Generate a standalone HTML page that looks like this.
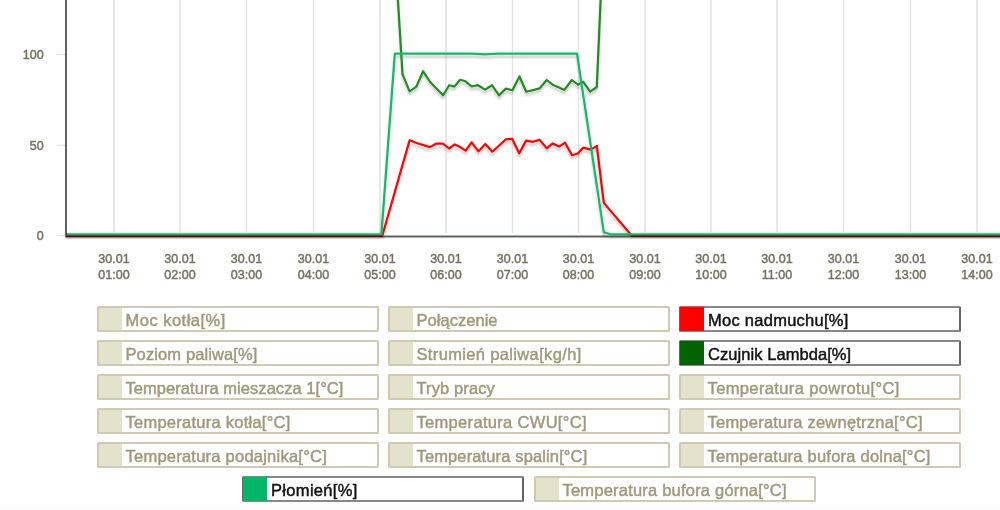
<!DOCTYPE html>
<html><head><meta charset="utf-8"><style>
html,body{will-change:transform;margin:0;padding:0;background:#fff;width:1000px;height:510px;overflow:hidden;position:relative;font-family:"Liberation Sans",sans-serif}
svg{position:absolute;left:0;top:0}
.yl{position:absolute;right:956.4px;margin-top:1px;font-size:12.5px;color:#777060;line-height:14px;-webkit-text-stroke:0.45px #777060}
.xl{position:absolute;top:250.6px;width:60px;text-align:center;font-size:12.5px;color:#777060;line-height:16px;-webkit-text-stroke:0.45px #777060}
.li{position:absolute;box-sizing:border-box;width:282px;height:26px;border:2px solid #d1cab3;border-radius:1.5px;background:#fff;white-space:nowrap;overflow:hidden}
.li .sw{position:absolute;left:0;top:0;width:22.6px;height:22px;background:#e5e2cc}
.li .tx{position:absolute;left:26.5px;top:1px;line-height:22px;font-size:16.5px;color:#a0987a;-webkit-text-stroke:0.45px #a0987a}
.li.on{border-color:rgba(0,0,0,0.47) rgba(0,0,0,0.6);overflow:visible}
.li.on .sw{left:-1px;top:-1px;width:23.7px;height:24px}
.li.on .tx{left:27px;color:#111;-webkit-text-stroke:0.45px #111}
</style></head><body>
<svg width="1000" height="300" viewBox="0 0 1000 300">
<defs><filter id="sh" x="-10%" y="-10%" width="120%" height="130%"><feGaussianBlur in="SourceAlpha" stdDeviation="1.0"/><feOffset dx="0" dy="2.5" result="b"/><feComponentTransfer><feFuncA type="linear" slope="0.22"/></feComponentTransfer><feMerge><feMergeNode/><feMergeNode in="SourceGraphic"/></feMerge></filter></defs>
<g stroke="#d0d0d0" stroke-width="1"><line x1="114.00" y1="0" x2="114.00" y2="233" /><line x1="180.00" y1="0" x2="180.00" y2="233" /><line x1="246.50" y1="0" x2="246.50" y2="233" stroke="#e4e4e4" stroke-width="1.4"/><line x1="313.50" y1="0" x2="313.50" y2="233" stroke="#e4e4e4" stroke-width="1.4"/><line x1="380.00" y1="0" x2="380.00" y2="233" /><line x1="446.00" y1="0" x2="446.00" y2="233" /><line x1="512.50" y1="0" x2="512.50" y2="233" stroke="#e4e4e4" stroke-width="1.4"/><line x1="578.50" y1="0" x2="578.50" y2="233" stroke="#e4e4e4" stroke-width="1.4"/><line x1="645.00" y1="0" x2="645.00" y2="233" /><line x1="711.00" y1="0" x2="711.00" y2="233" /><line x1="777.00" y1="0" x2="777.00" y2="233" /><line x1="843.50" y1="0" x2="843.50" y2="233" stroke="#e4e4e4" stroke-width="1.4"/><line x1="910.50" y1="0" x2="910.50" y2="233" stroke="#e4e4e4" stroke-width="1.4"/><line x1="977.00" y1="0" x2="977.00" y2="233" /></g>
<g stroke="#dcdcdc" stroke-width="1"><line x1="57" y1="54.7" x2="66" y2="54.7"/><line x1="57" y1="145.3" x2="66" y2="145.3"/><line x1="57" y1="235.7" x2="66" y2="235.7"/></g>
<clipPath id="ca"><rect x="66" y="-100" width="940" height="339"/></clipPath>
<g clip-path="url(#ca)"><g fill="none" stroke-width="2.2" stroke-linejoin="round" stroke-linecap="round" filter="url(#sh)">
<polyline stroke="#228b22" points="396.0,-31.0 402.5,74.1 409.6,91.3 416.3,86.7 423.1,71.2 429.8,81.5 436.4,88.5 443.1,95.3 449.2,85.2 454.3,86.6 460.2,79.8 465.5,81.3 471.7,86.5 478.0,85.2 485.1,89.6 492.0,85.2 499.1,95.3 505.9,88.6 512.4,90.2 519.5,76.5 526.3,91.7 533.0,90.1 539.6,88.4 546.7,80.0 552.6,84.7 558.5,87.3 564.3,89.9 571.8,80.0 577.9,84.7 583.1,81.6 590.2,91.7 596.8,87.0 603.5,-66.0"/>
<polyline stroke="#ff0000" points="66.0,236.0 382.2,236.0 409.6,140.2 416.5,143.0 429.8,147.1 436.0,143.7 442.9,143.7 449.2,148.5 454.6,144.4 459.7,146.8 465.6,150.6 471.6,142.3 478.5,151.3 485.3,144.1 492.3,151.7 506.0,139.3 512.3,138.9 519.2,153.3 526.1,140.6 532.8,141.8 539.6,139.9 546.8,148.4 552.6,143.4 559.1,146.6 565.0,142.7 572.1,155.3 577.9,153.5 583.2,147.6 590.9,149.6 596.8,145.9 603.8,202.9 632.0,236.0 1005.0,236.0"/>
<polyline stroke="#12b96b" points="66.0,234.3 381.4,234.3 394.8,53.7 472.0,53.7 485.0,54.4 498.0,53.7 577.0,53.7 603.8,232.1 610.4,234.3 1005.0,234.3"/>
</g></g>
<g stroke="rgba(9,15,10,0.65)" stroke-width="2"><line x1="65" y1="236.4" x2="1000" y2="236.4"/><line x1="66" y1="0" x2="66" y2="235.3"/></g>
</svg>
<div class="yl" style="top:47px">100</div>
<div class="yl" style="top:138px">50</div>
<div class="yl" style="top:228px">0</div>
<div class="xl" style="left:84.00px">30.01<br>01:00</div>
<div class="xl" style="left:150.00px">30.01<br>02:00</div>
<div class="xl" style="left:216.50px">30.01<br>03:00</div>
<div class="xl" style="left:283.50px">30.01<br>04:00</div>
<div class="xl" style="left:350.00px">30.01<br>05:00</div>
<div class="xl" style="left:416.00px">30.01<br>06:00</div>
<div class="xl" style="left:482.50px">30.01<br>07:00</div>
<div class="xl" style="left:548.50px">30.01<br>08:00</div>
<div class="xl" style="left:615.00px">30.01<br>09:00</div>
<div class="xl" style="left:681.00px">30.01<br>10:00</div>
<div class="xl" style="left:747.00px">30.01<br>11:00</div>
<div class="xl" style="left:813.50px">30.01<br>12:00</div>
<div class="xl" style="left:880.50px">30.01<br>13:00</div>
<div class="xl" style="left:947.00px">30.01<br>14:00</div>

<div class="li" style="left:97px;top:306px"><span class="sw"></span><span class="tx" style="letter-spacing:0.482px">Moc kotła[%]</span></div>
<div class="li" style="left:388px;top:306px"><span class="sw"></span><span class="tx" style="letter-spacing:0.033px">Połączenie</span></div>
<div class="li on" style="left:679px;top:306px"><span class="sw" style="background:#ff0000"></span><span class="tx" style="letter-spacing:0.264px">Moc nadmuchu[%]</span></div>
<div class="li" style="left:97px;top:340px"><span class="sw"></span><span class="tx" style="letter-spacing:0.113px">Poziom paliwa[%]</span></div>
<div class="li" style="left:388px;top:340px"><span class="sw"></span><span class="tx" style="letter-spacing:0.35px">Strumień paliwa[kg/h]</span></div>
<div class="li on" style="left:679px;top:340px"><span class="sw" style="background:#006400"></span><span class="tx" style="letter-spacing:0.062px">Czujnik Lambda[%]</span></div>
<div class="li" style="left:97px;top:374px"><span class="sw"></span><span class="tx" style="letter-spacing:0.05px">Temperatura mieszacza 1[°C]</span></div>
<div class="li" style="left:388px;top:374px"><span class="sw"></span><span class="tx" style="letter-spacing:0.111px">Tryb pracy</span></div>
<div class="li" style="left:679px;top:374px"><span class="sw"></span><span class="tx" style="letter-spacing:0.377px">Temperatura powrotu[°C]</span></div>
<div class="li" style="left:97px;top:408px"><span class="sw"></span><span class="tx" style="letter-spacing:0.25px">Temperatura kotła[°C]</span></div>
<div class="li" style="left:388px;top:408px"><span class="sw"></span><span class="tx" style="letter-spacing:0.317px">Temperatura CWU[°C]</span></div>
<div class="li" style="left:679px;top:408px"><span class="sw"></span><span class="tx" style="letter-spacing:0.228px">Temperatura zewnętrzna[°C]</span></div>
<div class="li" style="left:97px;top:442px"><span class="sw"></span><span class="tx" style="letter-spacing:0.237px">Temperatura podajnika[°C]</span></div>
<div class="li" style="left:388px;top:442px"><span class="sw"></span><span class="tx" style="letter-spacing:0.129px">Temperatura spalin[°C]</span></div>
<div class="li" style="left:679px;top:442px"><span class="sw"></span><span class="tx" style="letter-spacing:0.233px">Temperatura bufora dolna[°C]</span></div>
<div class="li on" style="left:242px;top:476px"><span class="sw" style="background:#00b767"></span><span class="tx" style="letter-spacing:0.322px">Płomień[%]</span></div>
<div class="li" style="left:534px;top:476px"><span class="sw"></span><span class="tx" style="letter-spacing:0.207px">Temperatura bufora górna[°C]</span></div>

<div style="position:absolute;left:0;top:504px;width:1000px;height:6px;background:linear-gradient(#fdfdfd,#f9f9f9)"></div>
</body></html>
